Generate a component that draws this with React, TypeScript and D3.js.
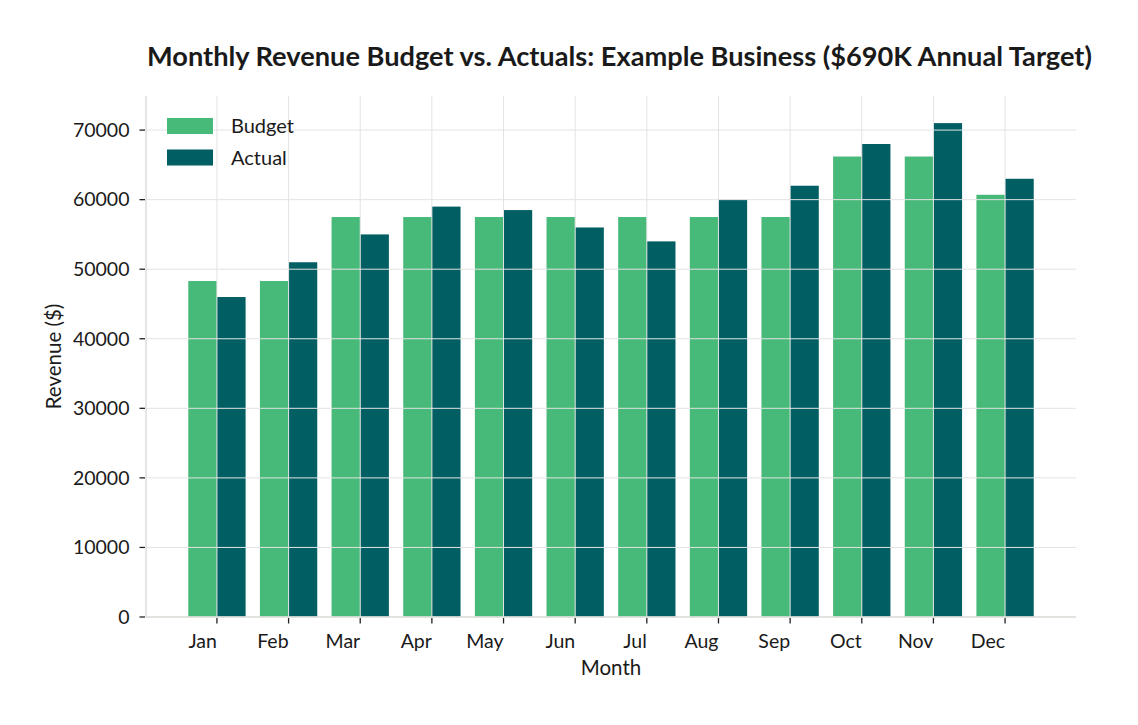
import React from "react";
import * as d3 from "d3";

const months = ["Jan", "Feb", "Mar", "Apr", "May", "Jun", "Jul", "Aug", "Sep", "Oct", "Nov", "Dec"];
const budget = [48300, 48300, 57500, 57500, 57500, 57500, 57500, 57500, 57500, 66200, 66200, 60700];
const actual = [46000, 51000, 55000, 59000, 58500, 56000, 54000, 60000, 62000, 68000, 71000, 63000];
const yTicks = [0, 10000, 20000, 30000, 40000, 50000, 60000, 70000];
const seriesNames = ["Budget", "Actual"];
const colors = ["#47BA79", "#015E63"];

const W = 1138;
const H = 725;
const left = 146;
const right = 1076;
const top = 96;
const bottom = 617;
const FONT = "Lato, 'Open Sans', sans-serif";

export default function App() {
  const x = d3.scaleLinear().domain([-0.99, 11.99]).range([left, right]);
  const y = d3.scaleLinear().domain([0, 74900]).range([bottom, top]);
  const bw = x(0.4) - x(0);
  const grid = "#e3e3e3";
  return (
    <svg width={W} height={H} style={{ position: "absolute", left: 0, top: 0, background: "#fff" }}>
      <text x={619.5} y={65.5} textAnchor="middle" fontFamily={FONT} fontWeight="bold" fontSize={27.2} fill="#1a1a1a">
        Monthly Revenue Budget vs. Actuals: Example Business ($690K Annual Target)
      </text>
      {months.map((m, i) => (
        <g key={m}>
          <rect x={x(i) - bw} y={y(budget[i])} width={bw} height={bottom - y(budget[i])} fill={colors[0]} />
          <rect x={x(i)} y={y(actual[i])} width={bw} height={bottom - y(actual[i])} fill={colors[1]} />
        </g>
      ))}
      {yTicks.map((t) => (
        <line key={"hg" + t} x1={left} x2={right} y1={y(t)} y2={y(t)} stroke={grid} strokeWidth={1} />
      ))}
      {months.map((m, i) => (
        <line key={"vg" + m} x1={x(i)} x2={x(i)} y1={top} y2={bottom} stroke={grid} strokeWidth={1} />
      ))}
      <line x1={left} x2={left} y1={top} y2={bottom} stroke="#dcdcd8" strokeWidth={1.5} />
      <line x1={left} x2={right} y1={bottom} y2={bottom} stroke="#dcdcd8" strokeWidth={1.5} />
      {yTicks.map((t) => (
        <g key={"yt" + t}>
          <line x1={left - 6.5} x2={left - 1} y1={y(t)} y2={y(t)} stroke="#222" strokeWidth={1.3} />
          <text x={left - 16.5} y={y(t)} dy="0.35em" textAnchor="end" fontFamily={FONT} fontSize={19.5} fill="#1a1a1a">
            {t}
          </text>
        </g>
      ))}
      {months.map((m, i) => (
        <g key={"xt" + m}>
          <line x1={x(i)} x2={x(i)} y1={bottom + 1} y2={bottom + 6.5} stroke="#222" strokeWidth={1.3} />
          <text x={x(i)} y={bottom + 30.5} textAnchor="end" fontFamily={FONT} fontSize={19.5} fill="#1a1a1a">
            {m}
          </text>
        </g>
      ))}
      <text x={(left + right) / 2} y={675} textAnchor="middle" fontFamily={FONT} fontSize={20.5} fill="#1a1a1a">
        Month
      </text>
      <text
        transform={`translate(61, ${(top + bottom) / 2}) rotate(-90)`}
        textAnchor="middle"
        fontFamily={FONT}
        fontSize={20.5}
        fill="#1a1a1a"
      >
        Revenue ($)
      </text>
      {seriesNames.map((s, i) => (
        <g key={s}>
          <rect x={167} y={118 + i * 31.5} width={46} height={16} fill={colors[i]} />
          <text x={231} y={126 + i * 31.5} dy="0.35em" fontFamily={FONT} fontSize={20} fill="#1a1a1a">
            {s}
          </text>
        </g>
      ))}
    </svg>
  );
}
